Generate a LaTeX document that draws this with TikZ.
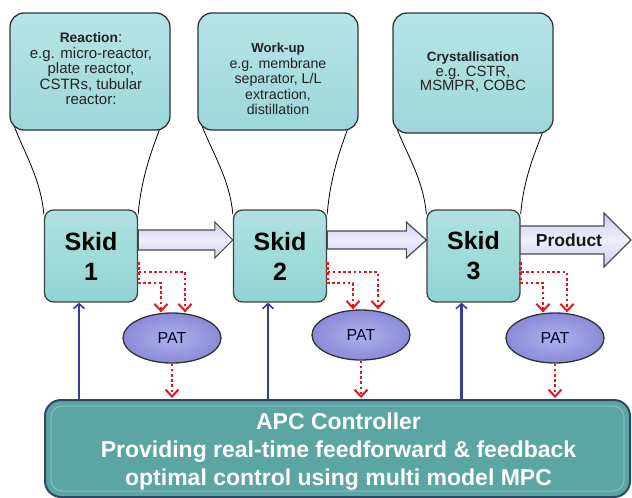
\documentclass[tikz,border=0pt]{standalone}
\usepackage{fontspec}
\setmainfont{Liberation Sans}
\usetikzlibrary{calc,arrows.meta,shapes.geometric}
\pgfdeclarelayer{bg}
\pgfsetlayers{bg,main}
\definecolor{callTop}{HTML}{B6E5E7}
\definecolor{callBot}{HTML}{9DD7DA}
\definecolor{skidTop}{HTML}{AEE2E1}
\definecolor{skidBot}{HTML}{93D3D3}
\definecolor{lav}{HTML}{CDCDF0}
\definecolor{lavLight}{HTML}{EEEEFB}
\definecolor{patIn}{HTML}{B0B0EE}
\definecolor{patOut}{HTML}{8A8AD8}
\definecolor{apcFill}{HTML}{5BA5A5}
\definecolor{apcLine}{HTML}{2E4A62}
\definecolor{apcInner}{HTML}{86C3C3}
\definecolor{navy}{HTML}{3A3A9E}
\definecolor{redd}{HTML}{E8141B}
\definecolor{txt}{HTML}{222222}
\newcommand\setfs[2]{\fontsize{#1}{#2}\selectfont}
\newcommand\blkarrow[5]{%
  \draw[blk] ($(#1)+(0,-#3)$) -- ($(#2)+(-#5,-#3)$) -- ($(#2)+(-#5,-#4)$) -- (#2)
    -- ($(#2)+(-#5,#4)$) -- ($(#2)+(-#5,#3)$) -- ($(#1)+(0,#3)$) -- cycle;}
\newcommand\patlinks[4]{%
  \coordinate (#1o) at ($(#1.east)+(0,6)$);
  \coordinate (#1h1) at ($(#1.east)+(0,16)$);
  \coordinate (#1h2) at ($(#1.east)+(0,27)$);
  \coordinate (#1t1) at ($(#2.north)+(#3,0)$);
  \coordinate (#1t2) at ($(#2.north)+(#4,0)$);
  \draw[reddot] (#1o) -- (#1h1) -- (#1h1 -| #1t1) -- (#1t1);
  \draw[reddot] (#1o) -- (#1h2) -- (#1h2 -| #1t2) -- (#1t2);}
\begin{document}
\begin{tikzpicture}[x=1pt,y=-1pt,
  callout/.style={draw=black!80, line width=1.3pt, rounded corners=14pt,
    top color=callTop, bottom color=callBot, minimum width=160pt, inner sep=0pt},
  calltext/.style={align=center, text=txt},
  skid/.style={draw=black!75, line width=1.3pt, rounded corners=9pt,
    top color=skidTop, bottom color=skidBot, minimum width=93pt, minimum height=92pt,
    inner sep=0pt, align=center, font=\bfseries\setfs{25}{30}},
  pat/.style={ellipse, draw=black!80, line width=1.3pt, inner color=patIn, outer color=patOut,
    minimum width=98pt, minimum height=50pt, inner sep=0pt, text=black!85!blue,
    font=\setfs{16}{18}},
  tail/.style={draw=black, line width=0.8pt},
  blk/.style={draw=black!70, line width=1.2pt, top color=lav, bottom color=lav,
    middle color=lavLight},
  reddot/.style={draw=redd, line width=2.8pt, dash pattern=on 2.6pt off 2.6pt,
    -{Straight Barb[length=7pt,width=13pt,line width=2pt]}},
  bluearr/.style={draw=navy, line width=2.2pt,
    -{Straight Barb[length=5pt,width=11pt,line width=1.6pt]}},
  apc/.style={draw=apcLine, line width=2pt, rounded corners=16pt, fill=apcFill,
    minimum width=585pt, minimum height=97pt, inner sep=0pt},
  apctext/.style={align=center, text=white, font=\bfseries\setfs{23}{28}}
]
\useasboundingbox (0,0) rectangle (632,498);

% callout boxes
\node[callout, minimum height=117pt] (c1) at (90,71.5) {};
\node[callout, minimum height=117pt] (c2) at (278,71.5) {};
\node[callout, minimum height=120pt] (c3) at (473,73) {};
\node[calltext, font=\setfs{15}{15.5}] (t1) at (91,69)
  {{\bfseries\setfs{13.8}{15.5}Reaction}:\\e.g. micro-reactor,\\plate reactor,\\CSTRs, tubular\\reactor:};
\node[calltext, font=\setfs{14.2}{15.5}] (t2) at (278,79)
  {{\bfseries\setfs{13.2}{15.5}Work-up}\\e.g. membrane\\separator, L/L\\extraction,\\distillation};
\node[calltext, font=\setfs{14.8}{14.5}] (t3) at (473,72.5)
  {{\bfseries\setfs{13.4}{14.5}Crystallisation}\\e.g. CSTR,\\MSMPR, COBC};

% skids
\node[skid] (s1) at (91,256) {Skid\\1};
\node[skid] (s2) at (280,256) {Skid\\2};
\node[skid] (s3) at (473.5,256) {Skid\\3};

% PAT
\node[pat] (p1) at (172,338) {PAT};
\node[pat] (p2) at (361,335) {PAT};
\node[pat] (p3) at (555,338) {PAT};

% APC
\node[apc] (apc) at (337.5,448.5) {};
\draw[apcInner, line width=1pt, rounded corners=11pt]
  ($(apc.south west)+(7,-7)$) rectangle ($(apc.north east)+(-7,7)$);
\node[apctext] (apctxt) at (338.5,452)
  {APC Controller\\Providing real-time feedforward \& feedback\\optimal control using multi model MPC};

\coordinate (prodend) at (631,240);

\begin{pgfonlayer}{bg}
  % callout tails
  \foreach \c/\s in {c1/s1,c2/s2,c3/s3}{
    \draw[tail] ($(\c.south west)+(5,-4)$) .. controls ($(\c.south west)+(15,22)$)
      and ($(\s.north west)+(-3,-30)$) .. ($(\s.north west)+(0,5)$);
    \draw[tail] ($(\c.south east)+(-10,-4)$) .. controls ($(\c.south east)+(-20,22)$)
      and ($(\s.north east)+(3,-30)$) .. ($(\s.north east)+(0,5)$);
  }
  % block arrows
  \coordinate (a1s) at ($(s1.east)+(0,-16)$);
  \coordinate (a1e) at ($(s2.west)+(0,-16)$);
  \coordinate (a2s) at ($(s2.east)+(0,-16)$);
  \coordinate (a2e) at ($(s3.west)+(0,-16)$);
  \coordinate (a3s) at ($(s3.east)+(-2,-16)$);
  \blkarrow{a1s}{a1e}{10}{18}{18}
  \blkarrow{a2s}{a2e}{9}{18}{20}
  \blkarrow{a3s}{prodend}{14}{27}{27}
\end{pgfonlayer}
\node[font=\bfseries\setfs{17.5}{20}, text=black!90] (prod) at (569,240) {Product};

% red dotted links skid -> PAT
\patlinks{s1}{p1}{13}{-11}
\patlinks{s2}{p2}{17}{-8}
\patlinks{s3}{p3}{12}{-12}

% PAT -> APC
\foreach \p in {p1,p2,p3}
  \draw[reddot] (\p.south) -- ($(apc.north -| \p.south)+(0,-1)$);

% APC -> skids (blue)
\foreach \s in {s1,s2,s3}{
  \coordinate (\s b) at ($(\s.south)+(-12,0)$);
  \draw[bluearr] (apc.north -| \s b) -- (\s b);
}
\end{tikzpicture}
\end{document}
